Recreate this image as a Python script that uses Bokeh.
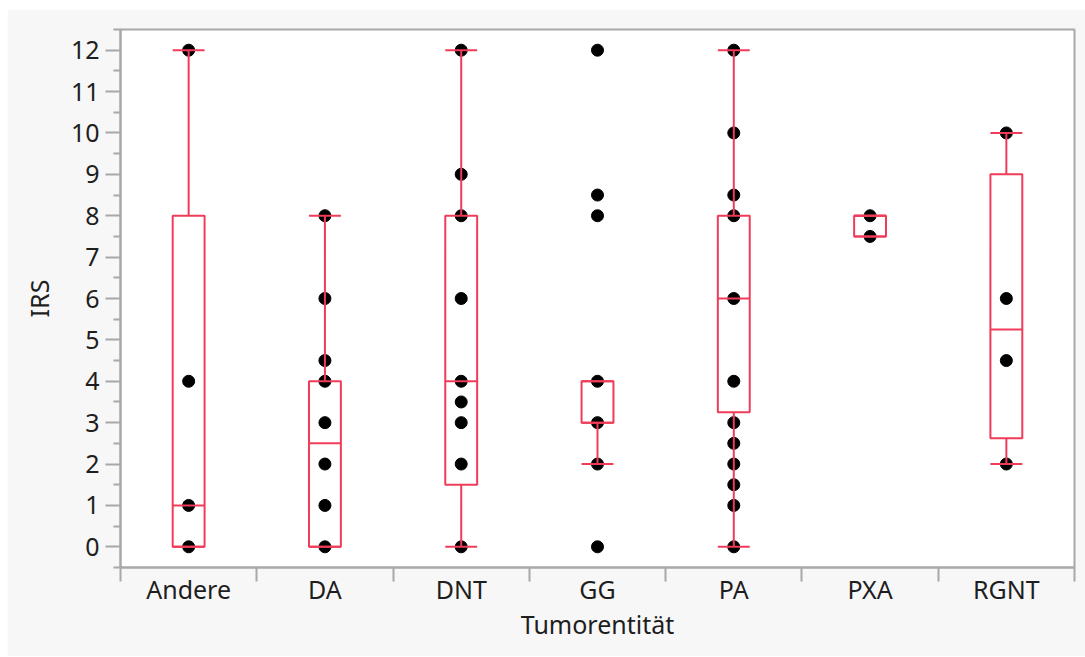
from bokeh.plotting import figure
from bokeh.models import (ColumnDataSource, FactorRange, Range1d, LinearAxis,
                          FixedTicker)
from bokeh.transform import dodge
from bokeh.embed import file_html
from bokeh.resources import INLINE

# ---------------- data ----------------
categories = ["Andere", "DA", "DNT", "GG", "PA", "PXA", "RGNT"]

andere_pts = [12, 4, 1, 0]
da_pts = [8, 6, 4.5, 4, 3, 2, 1, 0]
dnt_pts = [12, 9, 8, 6, 4, 3.5, 3, 2, 0]
gg_pts = [12, 8.5, 8, 4, 3, 2, 0]
pa_pts = [12, 10, 8.5, 8, 6, 4, 3, 2.5, 2, 1.5, 1, 0]
pxa_pts = [8, 7.5]
rgnt_pts = [10, 6, 4.5, 2]

q1 = [0, 0, 1.5, 3, 3.25, 7.5, 2.625]
median = [1, 2.5, 4, 3, 6, 8, 5.25]
q3 = [8, 4, 8, 4, 8, 8, 9]
whisker_lo = [0, 0, 0, 2, 0, 7.5, 2]
whisker_hi = [12, 8, 12, 4, 12, 8, 10]

y_ticks = list(range(0, 13))
y_minor = [i + 0.5 for i in range(-1, 13)]

# ---------------- build ----------------
all_pts = [andere_pts, da_pts, dnt_pts, gg_pts, pa_pts, pxa_pts, rgnt_pts]
px, py = [], []
for c, pts in zip(categories, all_pts):
    px += [c] * len(pts)
    py += pts
pts_src = ColumnDataSource(dict(cat=px, val=py))
box_src = ColumnDataSource(dict(cat=categories, q1=q1, med=median, q3=q3,
                                lo=whisker_lo, hi=whisker_hi))

FONT = "Noto Sans"
FS = "25px"
TXT = "#1e1e1e"
RED = "#f03c58"
GRAY = "#a8a8a8"

p = figure(width=1078, height=647, output_backend="svg", toolbar_location=None,
           x_range=FactorRange(factors=categories, range_padding=0),
           y_range=Range1d(-0.5, 12.5),
           x_axis_location=None, y_axis_location=None,
           min_border_left=113, min_border_right=11, min_border_top=20,
           min_border_bottom=89)
p.margin = (9, 0, 0, 7)
p.background_fill_color = "white"
p.border_fill_color = "#f7f7f7"
p.outline_line_color = GRAY
p.outline_line_width = 2
p.xgrid.visible = False
p.ygrid.visible = False

# y axis
yax = LinearAxis(ticker=FixedTicker(ticks=y_ticks, minor_ticks=y_minor),
                 axis_label="IRS")
yax.major_tick_out = 15
yax.major_tick_in = 0
yax.minor_tick_out = 7
yax.minor_tick_in = 0
yax.major_tick_line_color = GRAY
yax.minor_tick_line_color = GRAY
yax.major_tick_line_width = 2
yax.minor_tick_line_width = 2
yax.axis_line_color = GRAY
yax.axis_line_width = 2
yax.major_label_standoff = 6
yax.major_label_text_font = FONT
yax.major_label_text_font_size = FS
yax.major_label_text_color = TXT
yax.axis_label_text_font = FONT
yax.axis_label_text_font_size = FS
yax.axis_label_text_font_style = "normal"
yax.axis_label_text_color = TXT
yax.axis_label_standoff = 12
p.add_layout(yax, "left")

# x axis: ticks at category boundaries, labels at category centres
# (a factor range's synthetic coordinates run 0..n, one unit per factor)
centres = [i + 0.5 for i in range(len(categories))]
bounds = list(range(len(categories) + 1))
xax = LinearAxis(ticker=FixedTicker(ticks=centres, minor_ticks=bounds),
                 axis_label="Tumorentität")
xax.major_label_overrides = {c: n for c, n in zip(centres, categories)}
xax.major_tick_out = 0
xax.major_tick_in = 0
xax.minor_tick_out = 14
xax.minor_tick_in = 0
xax.minor_tick_line_color = GRAY
xax.minor_tick_line_width = 2
xax.axis_line_color = GRAY
xax.axis_line_width = 2
xax.major_label_standoff = -10
xax.major_label_text_font = FONT
xax.major_label_text_font_size = FS
xax.major_label_text_color = TXT
xax.axis_label_text_font = FONT
xax.axis_label_text_font_size = FS
xax.axis_label_text_font_style = "normal"
xax.axis_label_text_color = TXT
xax.axis_label_standoff = -2
p.add_layout(xax, "below")

# points
p.scatter("cat", "val", source=pts_src, size=12, color="black")

# boxes
HW = 0.117
p.vbar(x="cat", bottom="q1", top="q3", width=2 * HW, source=box_src,
       fill_color=None, line_color=RED, line_width=2)
for y in ["med", "lo", "hi"]:
    p.segment(x0=dodge("cat", -HW, range=p.x_range), y0=y,
              x1=dodge("cat", HW, range=p.x_range), y1=y,
              source=box_src, line_color=RED, line_width=2)
p.segment(x0="cat", y0="q3", x1="cat", y1="hi", source=box_src,
          line_color=RED, line_width=2)
p.segment(x0="cat", y0="q1", x1="cat", y1="lo", source=box_src,
          line_color=RED, line_width=2)

open("out.html", "w").write(file_html(p, INLINE))
